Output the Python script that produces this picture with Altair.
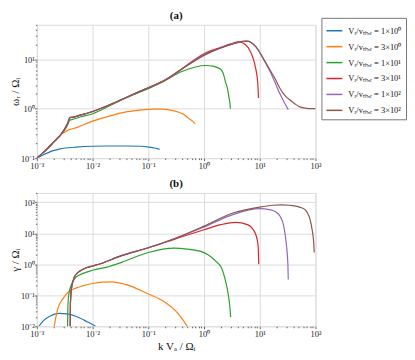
import altair as alt
import pandas as pd

SERIES = ["Vᵣ/vₜₕ,ᵣ = 1×10⁰", "Vᵣ/vₜₕ,ᵣ = 3×10⁰", "Vᵣ/vₜₕ,ᵣ = 1×10¹",
          "Vᵣ/vₜₕ,ᵣ = 3×10¹", "Vᵣ/vₜₕ,ᵣ = 1×10²", "Vᵣ/vₜₕ,ᵣ = 3×10²"]
COLORS = ["#1f77b4", "#ff7f0e", "#2ca02c", "#d62728", "#9467bd", "#8c564b"]

# ---- panel (a): omega_r / Omega_i ----
k_a_blue = [1e-3, 1.5e-3, 1.9e-3, 2.5e-3, 3.3e-3, 5e-3, 1e-2, 2e-2, 4e-2, 7.6e-2, 0.1, 0.13, 0.16]
w_a_blue = [0.1, 0.125, 0.14, 0.152, 0.16, 0.167, 0.174, 0.176, 0.176, 0.174, 0.168, 0.16, 0.15]

k_a_orange = [1e-3, 1.5e-3, 2e-3, 2.7e-3, 3.5e-3, 5.3e-3, 1e-2, 2e-2, 4e-2, 7.6e-2, 0.12, 0.17, 0.25, 0.34, 0.42, 0.51, 0.6, 0.69]
w_a_orange = [0.1, 0.15, 0.21, 0.3, 0.36, 0.42, 0.56, 0.71, 0.86, 0.95, 0.98, 0.98, 0.94, 0.86, 0.78, 0.66, 0.58, 0.5]

k_a_green = [1e-3, 1.5e-3, 2e-3, 2.7e-3, 3.2e-3, 3.6e-3, 3.85e-3, 4.2e-3, 6e-3, 1e-2, 2.2e-2, 5e-2, 0.1, 0.2, 0.39,
             0.7, 1.08, 1.5, 1.98, 2.2, 2.44, 2.65, 2.79, 2.9, 2.98]
w_a_green = [0.1, 0.15, 0.21, 0.3, 0.38, 0.48, 0.58, 0.6, 0.68, 0.79, 1.2, 1.85, 2.55, 3.7, 5.6,
             7.0, 7.5, 7.2, 6.3, 5.3, 3.4, 2.5, 1.74, 1.35, 1.0]

k_a_red = [1e-3, 1.5e-3, 2e-3, 2.7e-3, 3.2e-3, 3.6e-3, 3.9e-3, 4.3e-3, 6e-3, 1e-2, 2.2e-2, 5e-2, 0.1, 0.2, 0.39,
           1.0, 2.0, 3.0, 4.2, 5.5, 6.8, 7.6, 8.3, 9.2, 9.5]
w_a_red = [0.1, 0.15, 0.21, 0.3, 0.4, 0.52, 0.66, 0.67, 0.74, 0.88, 1.25, 1.9, 2.65, 3.8, 6.3,
           13.0, 17.5, 20.5, 22.5, 20.0, 14.4, 10.5, 7.2, 3.4, 1.65]

k_a_purple = [1e-3, 1.5e-3, 2e-3, 2.7e-3, 3.2e-3, 3.6e-3, 3.9e-3, 4.3e-3, 6e-3, 1e-2, 2.2e-2, 5e-2, 0.1, 0.2, 0.39,
              1.0, 2.0, 3.5, 5.0, 5.9, 7.0, 8.5, 10.2, 12.5, 15.4, 19.0, 23.0, 27.0, 32.5]
w_a_purple = [0.1, 0.15, 0.21, 0.3, 0.4, 0.52, 0.66, 0.67, 0.74, 0.88, 1.25, 1.9, 2.65, 3.8, 6.2,
              12.5, 17.0, 21.0, 23.0, 23.3, 22.0, 18.0, 13.3, 8.7, 5.6, 3.3, 2.0, 1.4, 0.96]

k_a_brown = [1e-3, 1.5e-3, 2e-3, 2.7e-3, 3.2e-3, 3.6e-3, 3.9e-3, 4.3e-3, 6e-3, 1e-2, 2.2e-2, 5e-2, 0.1, 0.2, 0.39,
             1.0, 2.0, 3.5, 5.0, 5.9, 7.0, 8.5, 10.2, 12.5, 15.4, 19.0, 23.0, 29.0, 35.0, 43.0, 52.0, 65.0, 80.0, 100.0]
w_a_brown = [0.1, 0.15, 0.21, 0.3, 0.4, 0.52, 0.66, 0.67, 0.74, 0.88, 1.25, 1.9, 2.65, 3.8, 6.2,
             12.0, 17.0, 21.0, 23.0, 23.3, 22.0, 18.0, 13.3, 9.0, 6.0, 4.0, 2.6, 1.8, 1.5, 1.25, 1.09, 1.03, 1.0, 1.0]

# ---- panel (b): gamma / Omega_i ----
k_b_blue = [1.09e-3, 1.3e-3, 1.7e-3, 2.5e-3, 3.5e-3, 5e-3, 8e-3, 1.13e-2]
g_b_blue = [0.01, 0.015, 0.021, 0.026, 0.025, 0.021, 0.014, 0.01]

k_b_orange = [2.05e-3, 2.2e-3, 2.36e-3, 2.9e-3, 3.8e-3, 5e-3, 6.6e-3, 1e-2, 1.5e-2, 2.2e-2, 4e-2, 0.1, 0.2, 0.3, 0.4, 0.5]
g_b_orange = [0.01, 0.02, 0.036, 0.075, 0.135, 0.17, 0.2, 0.24, 0.265, 0.27, 0.22, 0.11, 0.06, 0.033, 0.018, 0.01]

k_b_green = [3.56e-3, 3.6e-3, 3.7e-3, 3.9e-3, 4.3e-3, 5e-3, 6.6e-3, 1e-2, 2e-2, 3.3e-2, 0.1, 0.29, 0.5, 0.87,
             1.2, 1.7, 2.0, 2.4, 2.75, 2.9, 3.0]
g_b_green = [0.01, 0.04, 0.09, 0.15, 0.25, 0.38, 0.5, 0.64, 0.85, 1.15, 2.4, 3.3, 3.1, 2.6,
             2.0, 1.17, 0.85, 0.32, 0.095, 0.045, 0.02]

k_b_red = [3.97e-3, 4.0e-3, 4.1e-3, 4.3e-3, 4.7e-3, 5.5e-3, 6.6e-3, 1e-2, 1.3e-2, 3.3e-2, 0.1, 0.3, 1.0,
           2.0, 3.7, 6.0, 8.0, 9.3, 9.6]
g_b_red = [0.01, 0.05, 0.12, 0.22, 0.38, 0.55, 0.68, 0.88, 1.0, 1.9, 3.4, 6.5, 13.0,
           19.0, 22.5, 19.0, 11.5, 4.5, 1.0]

k_b_purple = [3.97e-3, 4.0e-3, 4.1e-3, 4.3e-3, 4.7e-3, 5.5e-3, 6.6e-3, 1e-2, 1.3e-2, 3.3e-2, 0.1, 0.3, 1.0,
              3.3, 10.0, 15.0, 19.0, 23.0, 27.0, 30.0, 32.0, 32.5]
g_b_purple = [0.01, 0.05, 0.12, 0.22, 0.38, 0.55, 0.68, 0.88, 1.0, 1.9, 3.4, 6.8, 16.0,
              40.0, 62.0, 58.0, 50.0, 36.0, 17.0, 4.5, 1.0, 0.32]

k_b_brown = [3.97e-3, 4.0e-3, 4.1e-3, 4.3e-3, 4.7e-3, 5.5e-3, 6.6e-3, 1e-2, 1.3e-2, 3.3e-2, 0.1, 0.3, 1.0,
             3.3, 10.0, 17.0, 24.0, 35.0, 52.0, 65.0, 72.0, 80.0, 86.0, 90.0, 93.0, 95.0]
g_b_brown = [0.01, 0.05, 0.12, 0.22, 0.38, 0.55, 0.68, 0.88, 1.0, 1.9, 3.4, 6.8, 17.0,
             45.0, 70.0, 80.0, 83.0, 80.0, 70.0, 58.0, 45.0, 28.0, 15.0, 9.0, 5.0, 2.4]

A = [(k_a_blue, w_a_blue), (k_a_orange, w_a_orange), (k_a_green, w_a_green),
     (k_a_red, w_a_red), (k_a_purple, w_a_purple), (k_a_brown, w_a_brown)]
B = [(k_b_blue, g_b_blue), (k_b_orange, g_b_orange), (k_b_green, g_b_green),
     (k_b_red, g_b_red), (k_b_purple, g_b_purple), (k_b_brown, g_b_brown)]


def frame(pairs):
    rows = []
    for s, (ks, vs) in zip(SERIES, pairs):
        for i, (k, v) in enumerate(zip(ks, vs)):
            rows.append({"k": k, "v": v, "series": s, "idx": i})
    return pd.DataFrame(rows)


df_a = frame(A)
df_b = frame(B)

FONT = "Liberation Serif"
SUP = {-3: "10⁻³", -2: "10⁻²", -1: "10⁻¹", 0: "10⁰", 1: "10¹", 2: "10²"}


def log_ticks(lo, hi):
    vals = []
    e = lo
    while e <= hi:
        for m in range(1, 10):
            vals.append(float(f"{m}e{e}"))
        e += 1
    return vals


def label_expr(majors):
    s = ""
    for e in majors:
        s += f"datum.value == {float(f'1e{e}')} ? '{SUP[e]}' : "
    return s + "''"


def major_test(majors):
    arr = ",".join(str(float(f"1e{e}")) for e in majors)
    return f"indexof([{arr}], datum.value) >= 0"


def make_axis(vals, majors, title=None, extra=None):
    kw = dict(
        values=vals,
        labelExpr=label_expr(majors),
        labelOverlap=False,
        labelFlush=False,
        labelFont=FONT,
        labelFontSize=8.5,
        labelColor="#222",
        labelPadding=1,
        domain=False,
        tickColor="#666",
        tickSize={"condition": {"test": major_test(majors), "value": 2.5}, "value": 1.5},
        gridColor="#dcdcdc",
        gridOpacity={"condition": {"test": major_test(majors), "value": 1}, "value": 0},
        titleFont=FONT,
        titleFontSize=11,
        titleFontWeight="normal",
        titleColor="#111",
        title=title,
    )
    if extra:
        kw.update(extra)
    return alt.Axis(**kw)


xvals = log_ticks(-3, 1) + [100.0]
xmaj = [-3, -2, -1, 0, 1, 2]

ya_vals = log_ticks(-1, 0) + [10.0, 20.0, 30.0, 40.0, 50.0]
yb_vals = log_ticks(-2, 1) + [100.0, 200.0]

color_enc = alt.Color(
    "series:N",
    scale=alt.Scale(domain=SERIES, range=COLORS),
    sort=SERIES,
    legend=alt.Legend(
        title=None,
        symbolType="stroke",
        symbolSize=256,
        symbolStrokeWidth=1.5,
        labelFont=FONT,
        labelFontSize=8.5,
        labelColor="#111",
        labelLimit=200,
        labelOffset=5,
        rowPadding=2,
        padding=4,
        strokeColor="#777",
        fillColor="white",
        orient="none",
        legendX=286,
        legendY=-7,
    ),
)


def panel(df, ytitle, ydom, yvals, ymaj, title, xtitle=None):
    return alt.Chart(df).mark_line(strokeWidth=1.2, clip=True, interpolate="monotone").encode(
        x=alt.X("k:Q", scale=alt.Scale(type="log", domain=[1e-3, 1e2], nice=False),
                axis=make_axis(xvals, xmaj, xtitle, {"titlePadding": 2})),
        y=alt.Y("v:Q", scale=alt.Scale(type="log", domain=ydom, nice=False),
                axis=make_axis(yvals, ymaj, ytitle, {"titlePadding": 0, "labelPadding": 0})),
        color=color_enc,
        order=alt.Order("idx:Q"),
    ).properties(
        width=280, height=134,
        title=alt.TitleParams(title, font=FONT, fontSize=11, fontWeight="bold",
                              color="#111", offset=0),
    )


top = panel(df_a, "ωᵣ / Ωᵢ", [0.1, 50], ya_vals, [-1, 0, 1], "(a)")
bot = panel(df_b, "γ / Ωᵢ", [0.01, 200], yb_vals, [-2, -1, 0, 1, 2], "(b)", "k Vₐ / Ωᵢ")

chart = alt.vconcat(top, bot, spacing=6).properties(
    padding={"left": 0, "top": 0, "right": 0, "bottom": 0}
).configure_view(
    stroke="#888", strokeWidth=1
).configure(background="white")

chart.save("out.html", embed_options={"renderer": "svg", "actions": False})
